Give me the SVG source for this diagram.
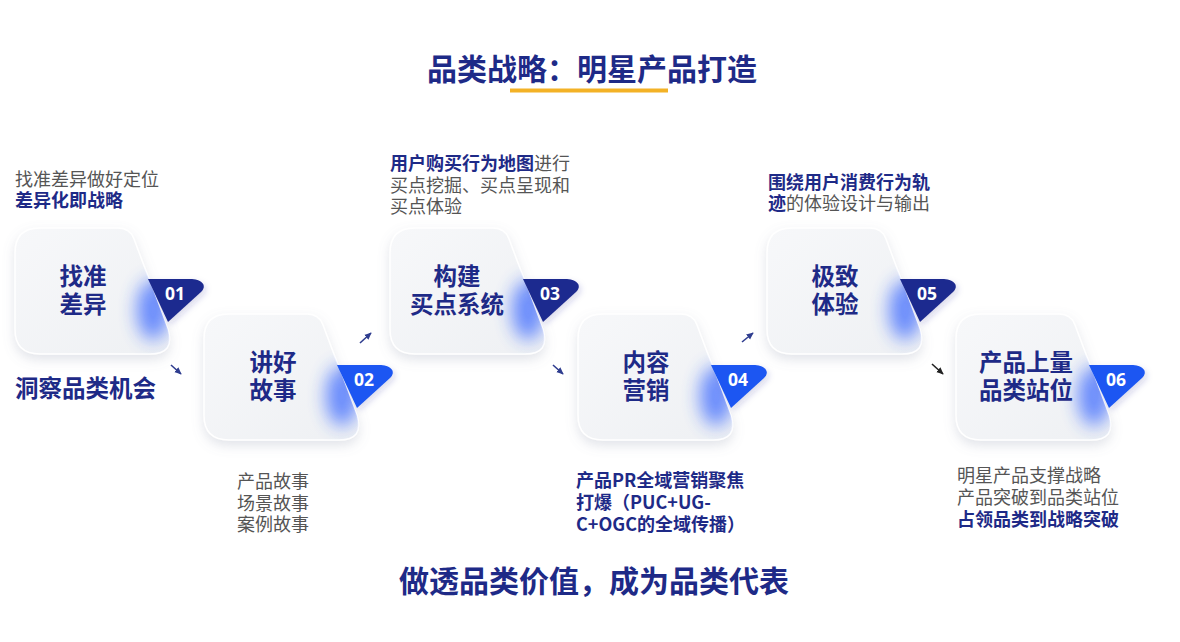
<svg xmlns="http://www.w3.org/2000/svg" width="1180" height="642" viewBox="0 0 1180 642">
<defs>
<style>
.cjk{font-family:"Noto Sans CJK SC","Noto Sans",sans-serif}
.title{font-size:30px;font-weight:700;fill:#1e2a87}
.grey{font-size:18px;fill:#555;font-weight:400}
.navy{font-size:18px;fill:#1e2a87;font-weight:700}
.big{font-size:23.5px;fill:#1e2a87;font-weight:700}
.ctext{font-size:23.5px;fill:#1e2a87;font-weight:700;text-anchor:middle}
.num{font-family:"Open Sans","Noto Sans",sans-serif;font-size:17.5px;font-weight:700;fill:#fff;text-anchor:middle}
.card{fill:url(#cardFill);stroke:#ffffff;stroke-width:1.5;filter:url(#shadow)}
.tagDark{fill:#1c2a8f;filter:url(#tagShadow)}
.tagBlue{fill:#1a56f2;filter:url(#tagShadow)}
.glow{fill:#2f5fff;opacity:.7;filter:url(#blur)}
.arr{stroke:#2f3d8f;stroke-width:1.6;fill:none;marker-end:url(#ah)}
</style>
<linearGradient id="cardFill" x1="0" y1="0" x2="1" y2="1">
<stop offset="0" stop-color="#f7f8fa"/>
<stop offset="1" stop-color="#eef0f3"/>
</linearGradient>
<filter id="shadow" x="-20%" y="-20%" width="140%" height="150%">
<feDropShadow dx="0" dy="5" stdDeviation="6" flood-color="#7b859c" flood-opacity="0.22"/>
</filter>
<filter id="tagShadow" x="-30%" y="-30%" width="160%" height="170%">
<feDropShadow dx="2" dy="3" stdDeviation="3" flood-color="#1c2a8f" flood-opacity="0.18"/>
</filter>
<filter id="blur" x="-100%" y="-100%" width="300%" height="300%">
<feGaussianBlur stdDeviation="9"/>
</filter>
<path id="cardShape" d="M25,0 H103 Q115,0 119,11 L153,102 Q160,126 135,126 H25 Q0,126 0,101 V25 Q0,0 25,0 Z"/>
<path id="tagShape" d="M133,51 L175,51 C186,51 193,57 186,64 L153,94 Z"/>
<clipPath id="cardClip" clipPathUnits="userSpaceOnUse">
<use href="#cardShape"/>
</clipPath>
<marker id="ah" viewBox="0 0 10 10" refX="8" refY="5" markerWidth="5" markerHeight="5" orient="auto">
<path d="M0,1 L9,5 L0,9 Z" fill="context-stroke"/>
</marker>
</defs>

<rect width="1180" height="642" fill="#ffffff"/>

<g id="title">
<text class="cjk title" x="592" y="80" text-anchor="middle">品类战略：明星产品打造</text>
<rect x="510" y="88.5" width="158" height="4" fill="#f3b226"/>
</g>

<g id="node1" transform="translate(15,228)">
<use href="#cardShape" class="card"/>
<g clip-path="url(#cardClip)"><ellipse class="glow" cx="138" cy="82" rx="16" ry="30"/></g>
<use href="#tagShape" class="tagDark"/>
<text class="num" x="160" y="72">01</text>
<text class="cjk ctext" x="68" y="57">找准<tspan x="68" dy="28">差异</tspan></text>
</g>

<g id="node2" transform="translate(204,314)">
<use href="#cardShape" class="card"/>
<g clip-path="url(#cardClip)"><ellipse class="glow" cx="138" cy="82" rx="16" ry="30"/></g>
<use href="#tagShape" class="tagBlue"/>
<text class="num" x="160" y="72">02</text>
<text class="cjk ctext" x="69" y="57">讲好<tspan x="69" dy="28">故事</tspan></text>
</g>

<g id="node3" transform="translate(390,228)">
<use href="#cardShape" class="card"/>
<g clip-path="url(#cardClip)"><ellipse class="glow" cx="138" cy="82" rx="16" ry="30"/></g>
<use href="#tagShape" class="tagDark"/>
<text class="num" x="160" y="72">03</text>
<text class="cjk ctext" x="67" y="57">构建<tspan x="67" dy="28">买点系统</tspan></text>
</g>

<g id="node4" transform="translate(578,314)">
<use href="#cardShape" class="card"/>
<g clip-path="url(#cardClip)"><ellipse class="glow" cx="138" cy="82" rx="16" ry="30"/></g>
<use href="#tagShape" class="tagBlue"/>
<text class="num" x="160" y="72">04</text>
<text class="cjk ctext" x="68" y="57">内容<tspan x="68" dy="28">营销</tspan></text>
</g>

<g id="node5" transform="translate(767,228)">
<use href="#cardShape" class="card"/>
<g clip-path="url(#cardClip)"><ellipse class="glow" cx="138" cy="82" rx="16" ry="30"/></g>
<use href="#tagShape" class="tagDark"/>
<text class="num" x="160" y="72">05</text>
<text class="cjk ctext" x="68" y="57">极致<tspan x="68" dy="28">体验</tspan></text>
</g>

<g id="node6" transform="translate(956,314)">
<use href="#cardShape" class="card"/>
<g clip-path="url(#cardClip)"><ellipse class="glow" cx="138" cy="82" rx="16" ry="30"/></g>
<use href="#tagShape" class="tagBlue"/>
<text class="num" x="160" y="72">06</text>
<text class="cjk ctext" x="70" y="57">产品上量<tspan x="70" dy="28">品类站位</tspan></text>
</g>

<g id="connectors">
<path class="arr" d="M171,365 L181,374"/>
<path class="arr" d="M360,343 L371,333"/>
<path class="arr" d="M553,365 L563,374"/>
<path class="arr" d="M742,342 L753,333"/>
<path class="arr" d="M932,364 L943,374" style="stroke:#222"/>
</g>

<g id="text1">
<text class="cjk grey" x="15" y="186">找准差异做好定位<tspan class="navy" x="15" dy="21">差异化即战略</tspan></text>
<text class="cjk big" x="15" y="397">洞察品类机会</text>
</g>

<g id="text2">
<text class="cjk grey" x="237" y="488">产品故事<tspan x="237" dy="21.5">场景故事</tspan><tspan x="237" dy="21.5">案例故事</tspan></text>
</g>

<g id="text3">
<text class="cjk grey" x="390" y="170"><tspan class="navy">用户购买行为地图</tspan>进行<tspan x="390" dy="21.5">买点挖掘、买点呈现和</tspan><tspan x="390" dy="21.5">买点体验</tspan></text>
</g>

<g id="text4">
<text class="cjk navy" x="576" y="487">产品PR全域营销聚焦<tspan x="576" dy="22">打爆（PUC+UG-</tspan><tspan x="576" dy="22">C+OGC的全域传播）</tspan></text>
</g>

<g id="text5">
<text class="cjk navy" x="768" y="189">围绕用户消费行为轨<tspan x="768" dy="21">迹</tspan><tspan class="grey">的体验设计与输出</tspan></text>
</g>

<g id="text6">
<text class="cjk grey" x="957" y="482">明星产品支撑战略<tspan x="957" dy="22">产品突破到品类站位</tspan><tspan class="navy" x="957" dy="22">占领品类到战略突破</tspan></text>
</g>

<g id="footer">
<text class="cjk title" x="594" y="592" text-anchor="middle">做透品类价值，成为品类代表</text>
</g>
</svg>
